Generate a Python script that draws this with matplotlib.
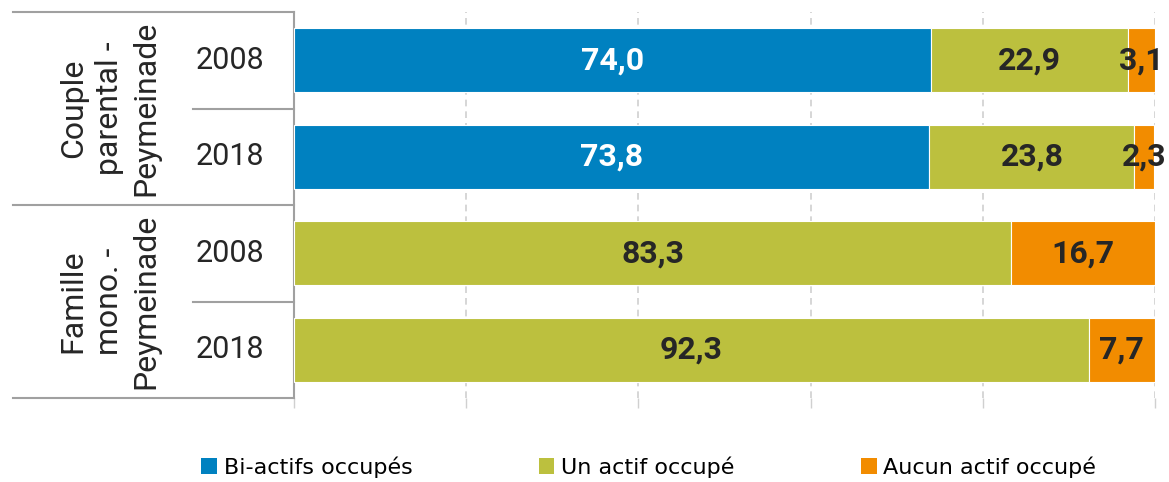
import matplotlib.pyplot as plt
import matplotlib.transforms as mtransforms
from matplotlib.patches import Patch
import numpy as np

groups = ['Couple\nparental -\nPeymeinade', 'Famille\nmono. -\nPeymeinade']
years = ['2008', '2018', '2008', '2018']
series = ['Bi-actifs occupés', 'Un actif occupé', 'Aucun actif occupé']
bi_actifs = [74.0, 73.8, 0.0, 0.0]
un_actif = [22.9, 23.8, 83.3, 92.3]
aucun_actif = [3.1, 2.3, 16.7, 7.7]
colors = ['#0081C0', '#BCC03E', '#F28C00']
label_colors = ['white', '#262626', '#262626']

fig = plt.figure(figsize=(11.69, 4.82), dpi=100)
ax = fig.add_axes([294 / 1169, 1 - 398 / 482, 861 / 1169, 386 / 482])

y = np.arange(len(years))
left = np.zeros(len(years))
for vals, col, lcol in zip([bi_actifs, un_actif, aucun_actif], colors, label_colors):
    vals = np.array(vals)
    ax.barh(y, vals, left=left, height=0.66, color=col, edgecolor='white', linewidth=0.8, zorder=3)
    for yi, v, l in zip(y, vals, left):
        if v > 0:
            ax.text(l + v / 2, yi, f'{v:.1f}'.replace('.', ','), ha='center', va='center',
                    fontsize=23, fontweight='bold', color=lcol, family='Roboto', zorder=4)
    left += vals

ax.set_xlim(0, 100)
ax.set_ylim(3.5, -0.5)
ax.set_xticks(np.arange(0, 101, 20))
ax.set_xticklabels([])
ax.set_yticks([])
ax.grid(axis='x', color='#d0d0d0', linestyle=(0, (4, 3)), linewidth=1.2, zorder=0)
ax.tick_params(axis='x', length=7, color='#d0d0d0', width=1.0)
for s in ['top', 'right', 'bottom']:
    ax.spines[s].set_visible(False)
ax.spines['left'].set_color('#a0a0a0')
ax.spines['left'].set_linewidth(1.5)

# category table on the left
trans = mtransforms.blended_transform_factory(ax.transAxes, ax.transData)
for yy in [-0.5, 1.5, 3.5]:
    ax.plot([-0.3264, 0], [yy, yy], color='#a0a0a0', lw=1.5, transform=trans, clip_on=False)
for yy in [0.5, 2.5]:
    ax.plot([-0.1173, 0], [yy, yy], color='#a0a0a0', lw=1.5, transform=trans, clip_on=False)
for yi, yr in zip(y, years):
    ax.text(-0.0743, yi, yr, transform=trans, ha='center', va='center', fontsize=22,
            color='#262626', family='Roboto')
for gi, g in enumerate(groups):
    ax.text(-0.214, gi * 2 + 0.5, g, transform=trans, ha='center', va='center', fontsize=23,
            color='#262626', family='Roboto', rotation=90, linespacing=1.33)

handles = [Patch(facecolor=c, label=s) for c, s in zip(colors, series)]
fig.legend(handles=handles, loc='center', bbox_to_anchor=(0.555, 1 - 467 / 482), ncol=3,
           frameon=False, handlelength=0.7, handleheight=0.7, handletextpad=0.3,
           columnspacing=5.7, prop={'family': ['Liberation Sans Narrow', 'DejaVu Sans'], 'size': 16})

fig.savefig('out.png', dpi=100)
